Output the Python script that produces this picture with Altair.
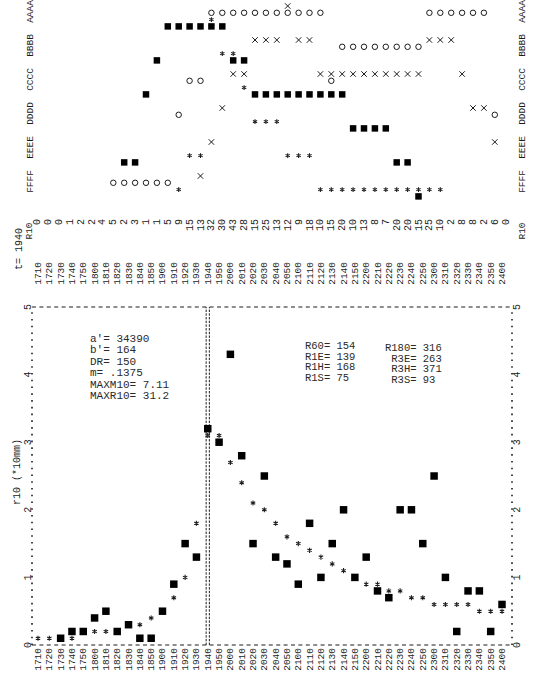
import altair as alt
import pandas as pd

# ---------------- values ----------------
years = ["1710", "1720", "1730", "1740", "1750", "1800", "1810", "1820", "1830", "1840", "1850",
         "1900", "1910", "1920", "1930", "1940", "1950", "2000", "2010", "2020", "2030", "2040",
         "2050", "2100", "2110", "2120", "2130", "2140", "2150", "2200", "2210", "2220", "2230",
         "2240", "2250", "2300", "2310", "2320", "2330", "2340", "2350", "2400"]
# observed r10 (filled squares), None = nothing drawn
r10_observed = [None, None, 0.1, 0.2, 0.2, 0.4, 0.5, 0.2, 0.3, 0.1, 0.1,
                0.5, 0.9, 1.5, 1.3, 3.2, 3.0, 4.3, 2.8, 1.5, 2.5, 1.3,
                1.2, 0.9, 1.8, 1.0, 1.5, 2.0, 1.0, 1.3, 0.8, 0.7, 2.0,
                2.0, 1.5, 2.5, 1.0, 0.2, 0.8, 0.8, 0.2, 0.6]
# fitted r10 (asterisks)
r10_fitted = [0.1, 0.1, 0.1, 0.1, 0.2, 0.2, 0.2, 0.2, 0.3, 0.3, 0.4,
              0.5, 0.7, 1.0, 1.8, 3.1, 3.1, 2.7, 2.4, 2.1, 2.0, 1.8,
              1.6, 1.5, 1.4, 1.3, 1.2, 1.1, 1.0, 0.9, 0.9, 0.8, 0.8,
              0.7, 0.7, 0.6, 0.6, 0.6, 0.6, 0.5, 0.5, 0.5]
# R10 row of the upper table (44 columns)
r10_row = [0, 0, 0, 1, 2, 2, 4, 5, 2, 3, 1, 1, 5, 9, 15, 13, 32, 30, 43, 28, 15, 25,
           13, 12, 9, 18, 10, 15, 20, 10, 13, 8, 7, 20, 20, 15, 25, 10, 2, 8, 8, 2, 6, 0]
band_labels = ["AAAA", "BBBB", "CCCC", "DDDD", "EEEE", "FFFF"]
# class of each series in each of the 44 columns of the upper table ("." = blank)
cross_band = "...............FEDCCBBBABBCCCCCCCCCCBBBCDDE."
circle_band = ".......FFFFFFDCCAAAAAAAAAAACBBBBBBBBAAAAAAD."
star_band = ".............FEEABBCDDDEEEFFFFFFFFFFFF......"
square_band = "........EECBAAAAAABBCCCCCCCCCDDDDEEF........"
notes_left = ["a'= 34390", "b'= 164", "DR= 150", "m= .1375", "MAXM10= 7.11", "MAXR10= 31.2"]
notes_mid = ["R60= 154", "R1E= 139", "R1H= 168", "R1S= 75"]
notes_right = ["R180= 316", "R3E= 263", "R3H= 371", "R3S= 93"]
y_title = "r10 (*10mm)"
t_label = "t= 1940"
t_year = "1940"
row_name = "R10"

for s in (cross_band, circle_band, star_band, square_band):
    assert len(s) == len(r10_row)

# ---------------- layout ----------------
W, H = 533, 687
FONT = "Liberation Mono"
INK = "#1c1c1c"
STAR = "M0,-1L0,1M-0.87,-0.5L0.87,0.5M-0.87,0.5L0.87,-0.5"
XSHAPE = "M-1,-1L1,1M-1,1L1,-1"

# main panel: column index -> px, value -> px
X0, DX = 38.0, 11.317
Y0, DY = 645.0, 67.6
# upper table: column index -> px, row -> px
GX0, GDX = 37.0, 10.9
GY0, GDY = 6.0, 6.8

mx = alt.Scale(domain=[-X0 / DX, (W - X0) / DX], nice=False, zero=False)
my = alt.Scale(domain=[-(H - Y0) / DY, Y0 / DY], nice=False, zero=False)
gx = alt.Scale(domain=[-GX0 / GDX, (W - GX0) / GDX], nice=False, zero=False)
gy = alt.Scale(domain=[-GY0 / GDY, (H - GY0) / GDY], nice=False, zero=False, reverse=True)


def ix(px):
    return (px - X0) / DX


def vy(py):
    return (Y0 - py) / DY


def gk(px):
    return (px - GX0) / GDX


def gr(py):
    return (py - GY0) / GDY


def MX(f="x"):
    return alt.X(f"{f}:Q", scale=mx, axis=None)


def MY(f="y"):
    return alt.Y(f"{f}:Q", scale=my, axis=None)


def GX(f="x"):
    return alt.X(f"{f}:Q", scale=gx, axis=None)


def GY(f="y"):
    return alt.Y(f"{f}:Q", scale=gy, axis=None)


layers = []

# ---------------- main panel ----------------
main = pd.DataFrame({"x": list(range(len(years))), "year": years,
                     "obs": r10_observed, "fit": r10_fitted})
obs = main.dropna(subset=["obs"])

# frame: dotted left/right, dashed top/bottom
frame_v = pd.DataFrame({"x": [ix(32), ix(512)], "y": [0, 0], "y2": [5, 5]})
layers.append(alt.Chart(frame_v).mark_rule(color=INK, strokeWidth=1.6, strokeDash=[1.6, DY / 10 - 1.6],
                                           strokeCap="butt")
              .encode(x=MX(), y=MY(), y2="y2:Q"))
frame_h = pd.DataFrame({"x": [ix(32), ix(32)], "x2": [ix(512), ix(512)], "y": [0, 5]})
layers.append(alt.Chart(frame_h).mark_rule(color=INK, strokeWidth=1.2, strokeDash=[4, 3.4])
              .encode(x=MX(), x2="x2:Q", y=MY()))
# double dashed line at t
tline = pd.DataFrame({"x": [years.index(t_year)], "y": [0], "y2": [5]})
for off in (-1.6, 1.6):
    layers.append(alt.Chart(tline).mark_rule(color=INK, strokeWidth=1, strokeDash=[2.4, 1.3], xOffset=off)
                  .encode(x=MX(), y=MY(), y2="y2:Q"))

layers.append(alt.Chart(main).mark_point(shape=STAR, size=26, filled=False, color=INK,
                                         strokeWidth=1.1, opacity=1)
              .encode(x=MX(), y=MY("fit")))
layers.append(alt.Chart(obs).mark_square(size=56, color="black", opacity=1)
              .encode(x=MX(), y=MY("obs")))

# year labels above and below the panel
for py in (262, 648):
    lab = main.assign(y=vy(py))
    layers.append(alt.Chart(lab).mark_text(angle=270, align="right", baseline="middle",
                                           font=FONT, fontSize=9.5, color=INK)
                  .encode(x=MX(), y=MY(), text="year:N"))

# value labels on both sides
ticks = pd.DataFrame({"t": [0, 1, 2, 3, 4, 5]})
for px in (27.5, 517):
    tk = ticks.assign(x=ix(px), y=ticks["t"])
    layers.append(alt.Chart(tk).mark_text(angle=270, align="center", baseline="middle",
                                          font=FONT, fontSize=10, color=INK)
                  .encode(x=MX(), y=MY(), text="t:N"))

# axis title and t label
side = pd.DataFrame({"x": [ix(17), ix(19)], "y": [vy(472), vy(249)], "txt": [y_title, t_label]})
layers.append(alt.Chart(side).mark_text(angle=270, align="center", baseline="middle",
                                        font=FONT, fontSize=10, color=INK)
              .encode(x=MX(), y=MY(), text="txt:N"))

# parameter notes (horizontal text)
nl = pd.DataFrame({"txt": notes_left,
                   "x": [ix(90)] * len(notes_left),
                   "y": [vy(339 + 11.4 * j) for j in range(len(notes_left))]})
nm = pd.DataFrame({"txt": notes_mid,
                   "x": [ix(305)] * len(notes_mid),
                   "y": [vy(346 + 10.6 * j) for j in range(len(notes_mid))]})
nr = pd.DataFrame({"txt": notes_right,
                   "x": [ix(385)] + [ix(391.3)] * (len(notes_right) - 1),
                   "y": [vy(348 + 10.6 * j) for j in range(len(notes_right))]})
layers.append(alt.Chart(nl).mark_text(align="left", baseline="middle", font=FONT,
                                      fontSize=11, color="#2a2a2a")
              .encode(x=MX(), y=MY(), text="txt:N"))
for d in (nm, nr):
    layers.append(alt.Chart(d).mark_text(align="left", baseline="middle", font=FONT,
                                         fontSize=10.5, color="#2a2a2a")
                  .encode(x=MX(), y=MY(), text="txt:N"))

# ---------------- upper table ----------------
rows = []
for sub, (name, seq) in enumerate([("x", cross_band), ("o", circle_band),
                                   ("*", star_band), ("s", square_band)]):
    for k, ch in enumerate(seq):
        if ch != ".":
            b = "ABCDEF".index(ch)
            rows.append({"x": k, "y": 5 * b + sub, "series": name})
grid = pd.DataFrame(rows)

layers.append(alt.Chart(grid[grid.series == "x"]).mark_point(shape=XSHAPE, size=30, filled=False,
                                                             color=INK, strokeWidth=1, opacity=1)
              .encode(x=GX(), y=GY()))
layers.append(alt.Chart(grid[grid.series == "o"]).mark_point(shape="circle", size=30, filled=False,
                                                             color=INK, strokeWidth=1, opacity=1)
              .encode(x=GX(), y=GY()))
layers.append(alt.Chart(grid[grid.series == "*"]).mark_point(shape=STAR, size=24, filled=False,
                                                             color=INK, strokeWidth=1.1, opacity=1)
              .encode(x=GX(), y=GY()))
layers.append(alt.Chart(grid[grid.series == "s"]).mark_square(size=42, color="black", opacity=1)
              .encode(x=GX(), y=GY()))

# band labels both sides
bl = pd.DataFrame({"txt": band_labels, "r": [5 * b + 0.8 for b in range(len(band_labels))]})
for px in (30, 522):
    d = bl.assign(x=gk(px), y=bl["r"])
    layers.append(alt.Chart(d).mark_text(angle=270, align="center", baseline="middle",
                                         font=FONT, fontSize=9.5, color=INK)
                  .encode(x=GX(), y=GY(), text="txt:N"))

# R10 row
rr = pd.DataFrame({"x": list(range(len(r10_row))), "v": [str(v) for v in r10_row]})
rr["y"] = gr(219)
layers.append(alt.Chart(rr).mark_text(angle=270, align="right", baseline="middle",
                                      font=FONT, fontSize=10, color=INK)
              .encode(x=GX(), y=GY(), text="v:N"))
rl = pd.DataFrame({"x": [gk(29), gk(522)], "y": [gr(231), gr(231)], "txt": [row_name, row_name]})
layers.append(alt.Chart(rl).mark_text(angle=270, align="center", baseline="middle",
                                      font=FONT, fontSize=9.5, color=INK)
              .encode(x=GX(), y=GY(), text="txt:N"))

chart = (alt.layer(*layers)
         .resolve_scale(x="independent", y="independent")
         .properties(width=W, height=H, padding=0,
                     autosize=alt.AutoSizeParams(type="none"), background="white")
         .configure_view(strokeWidth=0))

chart.save("out.html", embed_options={"renderer": "svg", "actions": False})
